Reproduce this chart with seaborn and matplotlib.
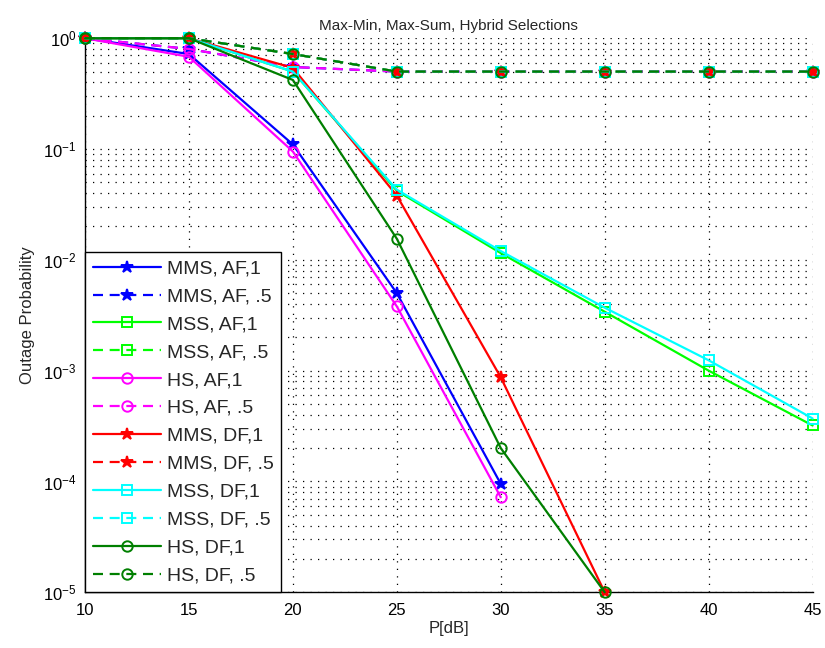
import matplotlib
matplotlib.use("Agg")
import matplotlib.pyplot as plt
import matplotlib.ticker as mticker
import numpy as np
import seaborn as sns

P_DB = [10, 15, 20, 25, 30, 35, 40, 45]

MMS_AF_1 = [1.0, 0.72, 0.11, 5.0e-3, 9.5e-5]
MMS_AF_H = [1.0, 0.80, 0.55, 0.5, 0.5, 0.5, 0.5, 0.5]
MSS_AF_1 = [1.0, 1.0, 0.50, 0.042, 0.0115, 3.4e-3, 1.0e-3, 3.2e-4]
MSS_AF_H = [1.0, 1.0, 0.72, 0.5, 0.5, 0.5, 0.5, 0.5]
HS_AF_1 = [1.0, 0.68, 0.095, 3.8e-3, 7.2e-5]
HS_AF_H = [1.0, 0.80, 0.55, 0.5, 0.5, 0.5, 0.5, 0.5]
MMS_DF_1 = [1.0, 1.0, 0.54, 0.038, 8.7e-4, 1.0e-5]
MMS_DF_H = [1.0, 1.0, 0.72, 0.5, 0.5, 0.5, 0.5, 0.5]
MSS_DF_1 = [1.0, 1.0, 0.50, 0.043, 0.012, 3.7e-3, 1.24e-3, 3.7e-4]
MSS_DF_H = [1.0, 1.0, 0.72, 0.5, 0.5, 0.5, 0.5, 0.5]
HS_DF_1 = [1.0, 1.0, 0.42, 0.0155, 2.0e-4, 1.0e-5]
HS_DF_H = [1.0, 1.0, 0.72, 0.5, 0.5, 0.5, 0.5, 0.5]

SERIES = [
    ("MMS, AF,1", MMS_AF_1, "#0000ff", "*", "-"),
    ("MMS, AF, .5", MMS_AF_H, "#0000ff", "*", "--"),
    ("MSS, AF,1", MSS_AF_1, "#00ff00", "s", "-"),
    ("MSS, AF, .5", MSS_AF_H, "#00ff00", "s", "--"),
    ("HS, AF,1", HS_AF_1, "#ff00ff", "o", "-"),
    ("HS, AF, .5", HS_AF_H, "#ff00ff", "o", "--"),
    ("MMS, DF,1", MMS_DF_1, "#ff0000", "*", "-"),
    ("MMS, DF, .5", MMS_DF_H, "#ff0000", "*", "--"),
    ("MSS, DF,1", MSS_DF_1, "#00ffff", "s", "-"),
    ("MSS, DF, .5", MSS_DF_H, "#00ffff", "s", "--"),
    ("HS, DF,1", HS_DF_1, "#007f00", "o", "-"),
    ("HS, DF, .5", HS_DF_H, "#007f00", "o", "--"),
]

sns.set_style("white")
plt.rcParams["font.family"] = ["Liberation Sans", "DejaVu Sans"]

fig = plt.figure(figsize=(8.25, 6.48), dpi=100)
ax = fig.add_axes([0.103, 0.086, 0.882, 0.855])

for label, vals, color, marker, ls in SERIES:
    x = P_DB[: len(vals)]
    filled = marker == "*"
    sns.lineplot(
        x=x, y=vals, ax=ax, color=color, label=label, linewidth=1.6,
        marker=marker, markersize=9 if filled else 7.5,
        markerfacecolor=color if filled else "none",
        markeredgecolor=color, markeredgewidth=1.4,
        clip_on=False, zorder=3,
    )
    line = ax.lines[-1]
    line.set_linestyle(ls)
    if ls == "--":
        line.set_dashes((4.5, 3))

ax.set_yscale("log")
ax.set_xlim(10, 45)
ax.set_ylim(1e-5, 1)
ax.set_xticks(np.arange(10, 46, 5))
ax.yaxis.set_major_locator(mticker.LogLocator(base=10, numticks=10))
ax.yaxis.set_minor_locator(mticker.LogLocator(base=10, subs=np.arange(2, 10), numticks=10))
ax.yaxis.set_minor_formatter(mticker.NullFormatter())

dots = (0, (1, 5))
ax.grid(which="major", axis="both", color="black", linestyle=dots, linewidth=0.9)
ax.grid(which="minor", axis="y", color="black", linestyle=dots, linewidth=0.9)
ax.set_axisbelow(True)

for side in ["top", "right"]:
    ax.spines[side].set_visible(False)
for side in ["left", "bottom"]:
    ax.spines[side].set_color("black")
    ax.spines[side].set_linewidth(1.0)

ax.tick_params(which="both", direction="in", labelsize=12, colors="black")
ax.tick_params(which="major", length=5)
ax.tick_params(which="minor", length=3)
ax.tick_params(axis="x", pad=8)
ax.tick_params(axis="y", pad=6)

ax.set_xlabel("P[dB]", fontsize=12, labelpad=2)
ax.set_ylabel("Outage Probability", fontsize=12, labelpad=6)
ax.set_title("Max-Min, Max-Sum, Hybrid Selections", fontsize=11)

leg = ax.legend(
    loc="lower left", bbox_to_anchor=(0, 0), borderaxespad=0, fontsize=14,
    handlelength=3.5, handletextpad=0.3, labelspacing=0.53, borderpad=0.4,
    frameon=True, fancybox=False, edgecolor="black", framealpha=1,
)
leg.get_frame().set_linewidth(1.0)
leg.set_zorder(5)

fig.savefig("out.png", dpi=100)
